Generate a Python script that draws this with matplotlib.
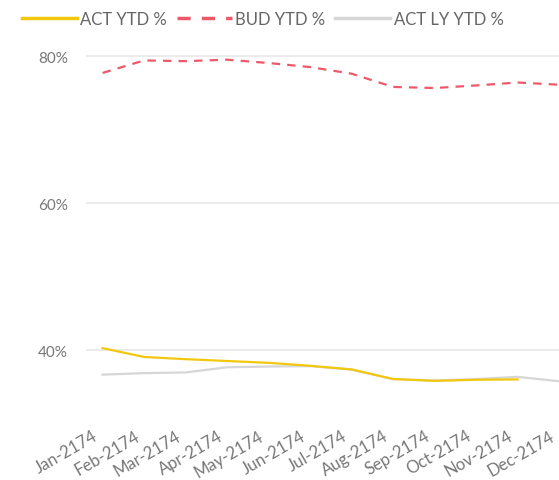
import numpy as np
import matplotlib
matplotlib.use("Agg")
import matplotlib.pyplot as plt
import matplotlib.transforms as mtransforms

months = ['Jan-2174', 'Feb-2174', 'Mar-2174', 'Apr-2174', 'May-2174', 'Jun-2174',
          'Jul-2174', 'Aug-2174', 'Sep-2174', 'Oct-2174', 'Nov-2174', 'Dec-2174']
act_ytd = [40.3, 39.1, 38.8, 38.55, 38.3, 37.9, 37.4, 36.1, 35.85, 36.0, 36.05]
bud_ytd = [77.7, 79.4, 79.3, 79.5, 79.05, 78.5, 77.6, 75.8, 75.65, 76.0, 76.4, 76.1]
act_ly_ytd = [36.7, 36.9, 37.0, 37.7, 37.8, 37.85, 37.4, 36.1, 35.9, 36.1, 36.4, 35.8]
y_ticks = [40, 60, 80]

text_col = '#777777'
plt.rcParams['font.family'] = ['Lato', 'DejaVu Sans']

fig = plt.figure(figsize=(5.59, 4.81), dpi=100)
ax = fig.add_axes([86 / 559, 1 - 410.2 / 481, 473 / 559, (410.2 - 42.3) / 481])

x = np.arange(len(months))
ax.plot(x[:len(act_ytd)], act_ytd, color='#F2C80F', lw=1.6, label='ACT YTD %',
        solid_joinstyle='round', zorder=4)
ax.plot(x, bud_ytd, color='#EC5A6A', lw=1.6, ls=(0, (3.8, 3.2)), label='BUD YTD %',
        zorder=3)
ax.plot(x, act_ly_ytd, color='#D6D6D6', lw=1.6, label='ACT LY YTD %',
        solid_joinstyle='round', zorder=2)

ax.set_xlim(-0.4, 11.0)
ax.set_ylim(32, 82)
ax.set_yticks(y_ticks)
ax.set_yticklabels([f'{v}%' for v in y_ticks])
ax.set_xticks(x)
ax.set_xticklabels(months, rotation=30, ha='right', va='center', rotation_mode='anchor')
ax.tick_params(axis='both', length=0, colors=text_col, labelsize=11)
ax.tick_params(axis='x', labelsize=12, pad=18)
ax.tick_params(axis='y', pad=13)
# shift the month labels a bit left of their ticks
shift = mtransforms.ScaledTranslation(-6 / 100, 0, fig.dpi_scale_trans)
for lbl in ax.get_xticklabels():
    lbl.set_transform(lbl.get_transform() + shift)
ax.grid(axis='y', color='#EBEBEB', lw=1.5)
ax.set_axisbelow(True)
for s in ax.spines.values():
    s.set_visible(False)

leg = fig.legend(loc='upper left', bbox_to_anchor=(15 / 559, 1 - 5 / 481), ncol=3,
                 frameon=False, fontsize=12, handlelength=3.3, handletextpad=0.2,
                 columnspacing=0.6, borderaxespad=0)
for line in leg.get_lines():
    line.set_linewidth(2.5)
for t in leg.get_texts():
    t.set_color('#666666')

fig.savefig('out.png', dpi=100)
